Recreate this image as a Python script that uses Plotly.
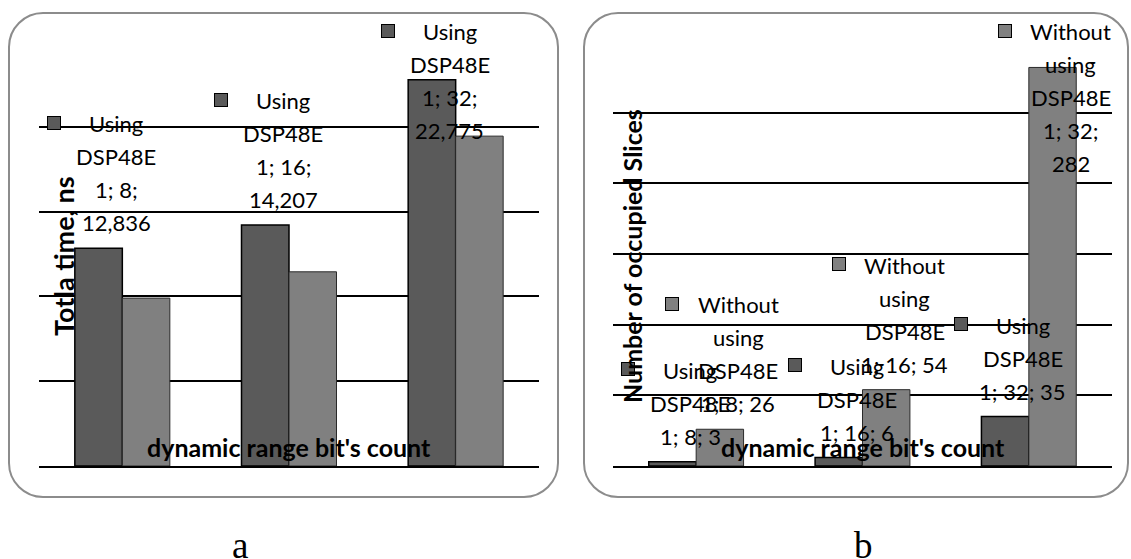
import plotly.graph_objects as go

# ---------------- data ----------------
categories = ["8", "16", "32"]
series_names = ["Using DSP48E1", "Without using DSP48E1"]
time_using = [12.836, 14.207, 22.775]
time_without = [9.9, 11.45, 19.45]
slices_using = [3, 6, 35]
slices_without = [26, 54, 282]
x_title = "dynamic range bit's count"
y_title_a = "Totla time, ns"
y_title_b = "Number of occupied Slices"
panel_letters = ["a", "b"]

# ---------------- style / layout constants ----------------
W, H = 1131, 559
COL_USING = "#5a5a5a"
COL_WITHOUT = "#808080"
LABEL_FONT = "Lato, Carlito, 'Open Sans', sans-serif"
LABEL_SIZE = 22
LINE_STEP = 33
panels = [
    dict(x0=39, x1=539, y0=42, y1=466, ymax=25, dtick=5, xa="x", ya="y"),
    dict(x0=613, x1=1112, y0=42, y1=466, ymax=300, dtick=50, xa="x2", ya="y2"),
]

# approx Calibri advance widths (em) used to reproduce Excel's label wrapping
CW = {'0': .507, '1': .507, '2': .507, '3': .507, '4': .507, '5': .507, '6': .507,
      '7': .507, '8': .507, '9': .507, ';': .268, ' ': .226, ',': .25, 'U': .653,
      's': .391, 'i': .229, 'n': .525, 'g': .471, 'D': .615, 'S': .459, 'P': .517,
      'E': .488, 'W': .89, 't': .335, 'h': .525, 'o': .527, 'u': .525}
LIMIT = 3.56


def tw(s):
    return sum(CW.get(c, .5) for c in s)


def wrap(text):
    lines, cur = [], ""
    for word in text.split(" "):
        cand = word if cur == "" else cur + " " + word
        if tw(cand) <= LIMIT:
            cur = cand
            continue
        if cur:
            lines.append(cur)
            cur = ""
        while tw(word) > LIMIT:
            k = len(word)
            while tw(word[:k]) > LIMIT:
                k -= 1
            lines.append(word[:k])
            word = word[k:]
        cur = word
    if cur:
        lines.append(cur)
    return lines


def fmt_a(v):
    return f"{v:.3f}".replace(".", ",")


def fmt_b(v):
    return f"{v}"


fig = go.Figure()

data_sets = [
    (time_using, time_without, fmt_a, [True, False]),
    (slices_using, slices_without, fmt_b, [True, True]),
]

annotations = []
for p, (vu, vw, fmt, labelled) in zip(panels, data_sets):
    for si, (vals, col) in enumerate([(vu, COL_USING), (vw, COL_WITHOUT)]):
        fig.add_trace(go.Bar(
            x=categories, y=vals, name=series_names[si],
            xaxis=p["xa"], yaxis=p["ya"],
            marker=dict(color=col,
                        line=dict(color="black" if si == 0 else "#2a2a2a",
                                  width=1.5 if si == 0 else 1)),
            showlegend=False, hoverinfo="skip"))
        if not labelled[si]:
            continue
        for ci, (cat, v) in enumerate(zip(categories, vals)):
            text = f"{series_names[si]}; {cat}; {fmt(v)}"
            lines = wrap(text)
            n = len(lines)
            scale = (p["y1"] - p["y0"]) / p["ymax"]
            bar_top = p["y1"] - v * scale
            top = max(bar_top - 9 - n * LINE_STEP, 15)
            dx = -6 if si == 0 else 42
            for k, ln in enumerate(lines):
                cy = top + 16.5 + LINE_STEP * k
                annotations.append(dict(
                    xref=p["xa"], yref=p["ya"], x=ci, y=v,
                    xshift=dx, yshift=bar_top - cy,
                    text=ln, showarrow=False, xanchor="center", yanchor="middle",
                    font=dict(family=LABEL_FONT, size=LABEL_SIZE, color="black")))
            # legend key
            cy0 = top + 16.5
            annotations.append(dict(
                xref=p["xa"], yref=p["ya"], x=ci, y=v,
                xshift=dx - (62 if si == 0 else 66), yshift=bar_top - cy0 + 1,
                text=" ", showarrow=False, xanchor="center", yanchor="middle",
                width=12, height=12, borderpad=0, borderwidth=1,
                bordercolor="black", bgcolor=col,
                font=dict(size=4)))

# axis titles
TITLE_FONT = dict(family="Lato, Carlito, sans-serif", size=25, color="black")
for p, yt, ycx, ysz in zip(panels, [y_title_a, y_title_b], [63, 632], [27, 25]):
    annotations.append(dict(
        xref="paper", yref="paper", x=(p["x0"] + p["x1"]) / 2 / W, y=1 - 447 / H,
        text=f"<b>{x_title}</b>", showarrow=False, xanchor="center", yanchor="middle",
        font=TITLE_FONT))
    annotations.append(dict(
        xref="paper", yref="paper", x=ycx / W, y=1 - 256 / H,
        text=f"<b>{yt}</b>", showarrow=False, xanchor="center", yanchor="middle",
        textangle=-90, font=dict(TITLE_FONT, size=ysz)))

for letter, cx in zip(panel_letters, [240, 864]):
    annotations.append(dict(
        xref="paper", yref="paper", x=cx / W, y=1 - 545 / H,
        text=letter, showarrow=False, xanchor="center", yanchor="middle",
        font=dict(family="Liberation Serif, 'Times New Roman', serif", size=37,
                  color="black")))


def rounded_box(x0, y0, x1, y1, r):
    def px(x):
        return x / W

    def py(y):
        return 1 - y / H
    k = 0.45
    path = (f"M {px(x0 + r)},{py(y0)} L {px(x1 - r)},{py(y0)} "
            f"C {px(x1 - r * k)},{py(y0)} {px(x1)},{py(y0 + r * k)} {px(x1)},{py(y0 + r)} "
            f"L {px(x1)},{py(y1 - r)} "
            f"C {px(x1)},{py(y1 - r * k)} {px(x1 - r * k)},{py(y1)} {px(x1 - r)},{py(y1)} "
            f"L {px(x0 + r)},{py(y1)} "
            f"C {px(x0 + r * k)},{py(y1)} {px(x0)},{py(y1 - r * k)} {px(x0)},{py(y1 - r)} "
            f"L {px(x0)},{py(y0 + r)} "
            f"C {px(x0)},{py(y0 + r * k)} {px(x0 + r * k)},{py(y0)} {px(x0 + r)},{py(y0)} Z")
    return dict(type="path", xref="paper", yref="paper", path=path,
                line=dict(color="#8c8c8c", width=2), layer="below")


shapes = [rounded_box(9, 13, 558, 497, 34), rounded_box(584, 13, 1128, 497, 34)]

layout = dict(
    width=W, height=H, margin=dict(l=0, r=0, t=0, b=0),
    paper_bgcolor="white", plot_bgcolor="rgba(0,0,0,0)",
    barmode="group", bargap=0.43, bargroupgap=0,
    annotations=annotations, shapes=shapes,
)
for i, p in enumerate(panels):
    sfx = "" if i == 0 else "2"
    layout["xaxis" + sfx] = dict(
        domain=[p["x0"] / W, p["x1"] / W], anchor="y" + sfx, type="category",
        range=[-0.5, len(categories) - 0.5], autorange=False,
        showticklabels=False, showgrid=False, zeroline=False,
        showline=True, linecolor="black", linewidth=2, ticks="", fixedrange=True)
    layout["yaxis" + sfx] = dict(
        domain=[1 - p["y1"] / H, 1 - p["y0"] / H], anchor="x" + sfx,
        range=[0, p["ymax"]], autorange=False, tick0=0, dtick=p["dtick"],
        showticklabels=False, showgrid=True, gridcolor="black", gridwidth=2,
        zeroline=False, showline=False, ticks="", fixedrange=True)

fig.update_layout(**layout)
fig.write_html("out.html", config={"displayModeBar": False},
               post_script="document.body.style.margin='0';")
